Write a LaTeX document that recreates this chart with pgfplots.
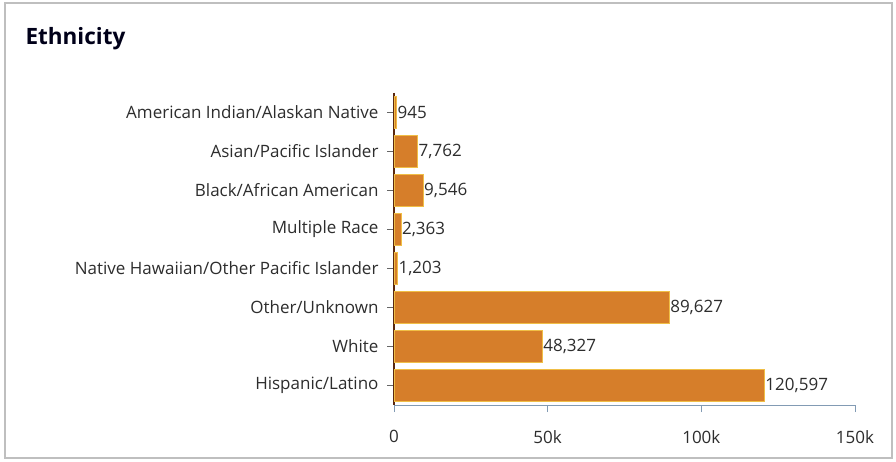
\documentclass[border=0pt]{standalone}
\usepackage{pgfplots}
\pgfplotsset{compat=1.18}
\usepackage{fontspec}
\setmainfont{Open Sans}
\definecolor{barfill}{RGB}{214,126,42}
\definecolor{baredge}{RGB}{240,190,70}
\definecolor{txt}{RGB}{45,45,45}
\definecolor{xaxis}{RGB}{130,155,180}
\definecolor{yaxis}{RGB}{90,40,15}
\begin{document}
\begin{tikzpicture}[x=1pt,y=1pt]
\fill[white] (0,0) rectangle (896,462);
\draw[black!25,line width=1.5pt] (5,4) rectangle (892,459);
\node[anchor=west,font=\fontsize{22.5}{26}\selectfont\bfseries,text=black!90!blue] at (22,423) {Ethnicity};
\begin{axis}[
  at={(394pt,57pt)}, anchor=south west,
  scale only axis, width=461pt, height=312pt,
  xbar, bar width=32pt,
  xmin=0, xmax=150000, ymin=0.5, ymax=8.5,
  y dir=reverse,
  axis x line*=bottom, axis y line*=left,
  x axis line style={xaxis,line width=1pt,-},
  y axis line style={yaxis,line width=1.2pt,-},
  scaled x ticks=false,
  xtick={0,50000,100000,150000},
  xticklabels={0,50k,100k,150k},
  ytick={1,...,8},
  yticklabels={American Indian/Alaskan Native,Asian/Pacific Islander,Black/African American,Multiple Race,Native Hawaiian/Other Pacific Islander,Other/Unknown,White,Hispanic/Latino},
  tick label style={font=\fontsize{17}{19}\selectfont,text=txt},
  /pgf/number format/assume math mode=true,
  x tick style={xaxis,line width=1pt},
  y tick style={black!60,line width=0.8pt},
  xtick align=outside, ytick align=outside,
  major tick length=7pt,
  xticklabel style={yshift=-15pt},
  yticklabel style={xshift=-5pt},
  nodes near coords,
  nodes near coords style={font=\fontsize{17}{19}\selectfont,text=txt,anchor=west,xshift=-3pt,
    /pgf/number format/.cd,fixed,1000 sep={,}},
  clip=false,
]
\addplot[fill=barfill,draw=baredge,line width=1pt] coordinates {
(945,1) (7762,2) (9546,3) (2363,4) (1203,5) (89627,6) (48327,7) (120597,8)};
\end{axis}
\end{tikzpicture}
\end{document}
